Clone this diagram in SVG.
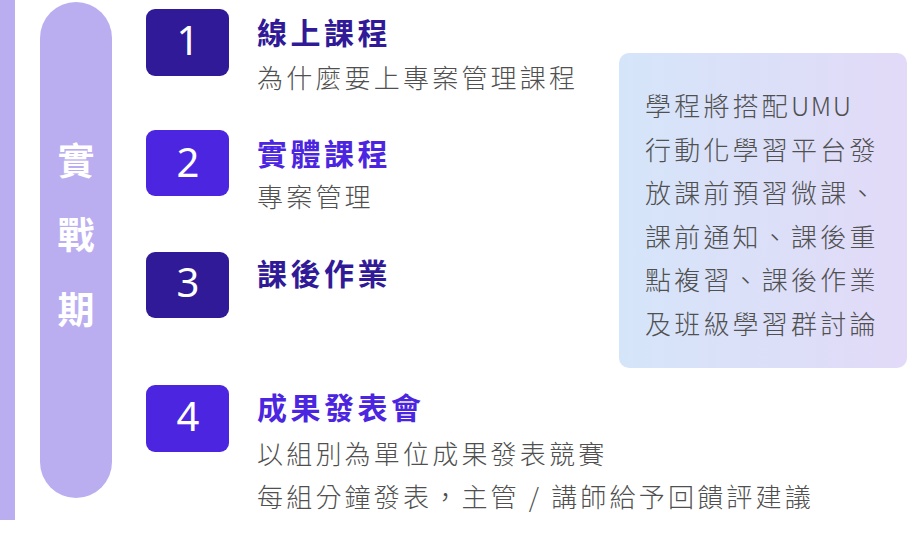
<svg xmlns="http://www.w3.org/2000/svg" width="908" height="534" viewBox="0 0 908 534">
<defs>
<linearGradient id="g" x1="0" y1="0" x2="1" y2="0">
<stop offset="0" stop-color="#D5E5F9"/>
<stop offset="1" stop-color="#E2DAF8"/>
</linearGradient>
<style>
.lav{fill:#BAAEF0}
.dark{fill:#301A97}
.bright{fill:#4B25DF}
.num{font-family:"Noto Sans","Open Sans",sans-serif;font-size:40px;fill:#fff;text-anchor:middle}
.side{font-family:"Noto Sans CJK TC","Noto Sans CJK SC",sans-serif;font-size:37px;font-weight:700;fill:#fff;text-anchor:middle}
.t{font-family:"Noto Sans CJK TC","Noto Sans CJK SC",sans-serif;font-size:30px;font-weight:700;letter-spacing:3.5px}
.td{fill:#301A97}
.tb{fill:#4B25DF}
.s{font-family:"Noto Sans CJK TC","Noto Sans CJK SC",sans-serif;font-size:26px;font-weight:300;letter-spacing:3.2px;fill:#505050}
</style>
</defs>
<rect class="lav" x="0" y="0" width="15" height="520"/>
<g id="phase">
<rect class="lav" x="40" y="2" width="72" height="496" rx="36"/>
<text class="side" x="76" y="175">實</text>
<text class="side" x="76" y="249">戰</text>
<text class="side" x="76" y="324">期</text>
</g>
<g id="step1">
<rect class="dark" x="146" y="9" width="83" height="67" rx="9"/>
<text class="num" x="188" y="55">1</text>
<text class="t td" x="257" y="44">線上課程</text>
<text class="s" x="257" y="88">為什麼要上專案管理課程</text>
</g>
<g id="step2">
<rect class="bright" x="146" y="130" width="83" height="66" rx="9"/>
<text class="num" x="188" y="177">2</text>
<text class="t tb" x="257" y="165">實體課程</text>
<text class="s" x="257" y="207">專案管理</text>
</g>
<g id="step3">
<rect class="dark" x="146" y="252" width="83" height="66" rx="9"/>
<text class="num" x="188" y="297">3</text>
<text class="t td" x="257" y="285">課後作業</text>
</g>
<g id="step4">
<rect class="bright" x="146" y="385" width="83" height="67" rx="9"/>
<text class="num" x="188" y="431">4</text>
<text class="t tb" x="257" y="419">成果發表會</text>
<text class="s" x="257" y="464">以組別為單位成果發表競賽</text>
<text class="s" x="257" y="507">每組分鐘發表，主管 / 講師給予回饋評建議</text>
</g>
<g id="note">
<rect x="619" y="53" width="288" height="315" rx="10" fill="url(#g)"/>
<text class="s" x="645" y="116">學程將搭配<tspan letter-spacing="1.5">UMU</tspan></text>
<text class="s" x="645" y="160">行動化學習平台發</text>
<text class="s" x="645" y="203">放課前預習微課、</text>
<text class="s" x="645" y="247">課前通知、課後重</text>
<text class="s" x="645" y="290">點複習、課後作業</text>
<text class="s" x="645" y="334">及班級學習群討論</text>
</g>
<g id="connectors"/>
</svg>
